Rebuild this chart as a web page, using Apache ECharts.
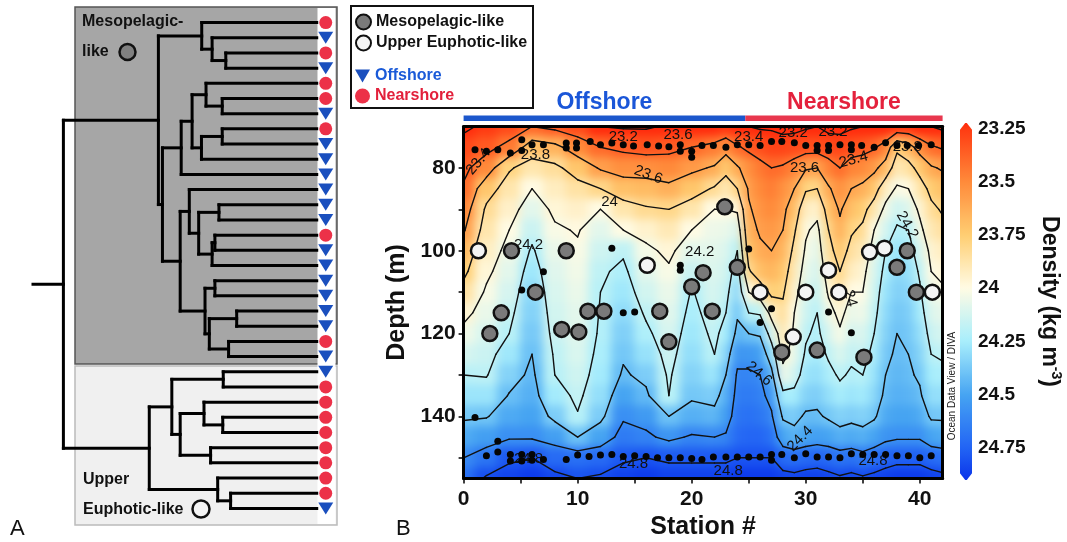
<!DOCTYPE html>
<html><head><meta charset="utf-8">
<script src="https://cdn.jsdelivr.net/npm/echarts@6/dist/echarts.min.js"></script>
<style>
html,body{margin:0;padding:0;background:#fff}
#wrap{position:relative;width:1067px;height:542px;background:#fff}
#heat{position:absolute;left:0;top:0;width:1067px;height:542px;filter:blur(5px);clip-path:inset(126.5px 124.4px 63.5px 463.6px)}
#c{position:absolute;left:0;top:0;width:1067px;height:542px}
</style>
</head><body><div id="wrap"><div id="heat"></div><div id="c"></div></div>
<script>
// ================= DATA =================
// ---- Panel A: dendrogram (leaves listed top to bottom)
const leafTypes = ['N','O','N','O','N','N','O','N','O','O','O','O','O','O','N','O','O','O','O','O','O','N','O',
                   'O','N','N','N','N','N','N','N','N','O'];
// merges: node id = 33 + k ; children may be leaves (0..32) or earlier nodes
const mergeA = [2,1,0,5,4,7,38,37,40,12,14,43,42,11,17,19,21,48,47,46,41,35,23,26,25,28,57,55,31,30,60,54];
const mergeB = [3,33,34,6,36,8,9,39,10,13,15,16,44,45,18,20,22,49,50,51,52,53,24,27,56,29,58,59,32,61,62,63];
const mergeHeight = [0.359,0.413,0.454,0.373,0.437,0.373,0.455,0.492,0.535,0.386,0.402,0.413,0.466,0.503,0.402,0.316,
                     0.348,0.424,0.441,0.539,0.609,0.625,0.369,0.371,0.445,0.419,0.539,0.572,0.340,0.391,0.661,1.000];

// ---- Panel B: gridded density (kg m-3), one profile per station, depths below
const stations = [0,2,4,6,8,10,12,14,16,18,20,22,23,24,25,26,27,28,29,30,31,32,33,34,35,36,37,38,39,40,41,42];
const depths = [70,75,80,85,90,95,100,105,110,115,120,125,130,135,140,145,150,155];
const densityProfiles = [
 [23.15,23.30,23.36,23.42,23.50,23.58,23.68,23.76,23.86,23.96,24.04,24.12,24.20,24.28,24.38,24.48,24.60,24.70],
 [23.25,23.35,23.50,23.72,23.83,23.88,23.93,23.97,24.02,24.06,24.11,24.15,24.19,24.28,24.39,24.52,24.68,24.82],
 [23.30,23.45,23.78,23.88,23.94,24.00,24.04,24.08,24.12,24.16,24.20,24.27,24.34,24.41,24.48,24.58,24.78,24.85],
 [23.40,23.70,23.88,24.00,24.08,24.15,24.22,24.27,24.31,24.34,24.37,24.40,24.43,24.46,24.50,24.58,24.80,24.88],
 [23.35,23.65,23.84,23.92,23.97,24.02,24.06,24.09,24.11,24.13,24.15,24.18,24.20,24.26,24.36,24.52,24.72,24.84],
 [23.30,23.50,23.72,23.86,23.94,23.99,24.02,24.04,24.06,24.08,24.09,24.11,24.14,24.17,24.21,24.40,24.70,24.80],
 [23.20,23.40,23.58,23.80,24.00,24.08,24.14,24.18,24.20,24.21,24.22,24.24,24.26,24.30,24.36,24.50,24.72,24.82],
 [23.18,23.36,23.52,23.70,23.88,24.00,24.18,24.23,24.27,24.31,24.35,24.38,24.42,24.50,24.58,24.66,24.78,24.86],
 [23.18,23.33,23.52,23.68,23.82,23.95,24.03,24.08,24.13,24.18,24.23,24.29,24.36,24.43,24.54,24.63,24.80,24.88],
 [23.22,23.35,23.50,23.64,23.80,23.90,23.97,24.02,24.06,24.09,24.12,24.15,24.18,24.20,24.40,24.56,24.78,24.86],
 [23.22,23.40,23.56,23.72,23.88,24.00,24.08,24.15,24.21,24.24,24.27,24.30,24.34,24.38,24.46,24.62,24.78,24.86],
 [23.22,23.45,23.62,23.82,24.00,24.05,24.08,24.10,24.12,24.14,24.17,24.20,24.28,24.36,24.44,24.60,24.78,24.86],
 [23.25,23.52,23.74,23.90,24.00,24.06,24.10,24.13,24.16,24.20,24.25,24.32,24.40,24.46,24.52,24.62,24.78,24.86],
 [23.22,23.42,23.62,23.80,23.98,24.10,24.20,24.26,24.32,24.38,24.44,24.55,24.62,24.65,24.68,24.72,24.80,24.88],
 [23.20,23.36,23.52,23.58,23.62,23.66,23.72,23.82,24.00,24.20,24.40,24.55,24.62,24.66,24.70,24.74,24.80,24.88],
 [23.18,23.32,23.45,23.50,23.54,23.58,23.63,23.70,23.90,24.18,24.38,24.52,24.60,24.64,24.68,24.74,24.80,24.88],
 [23.18,23.28,23.40,23.46,23.50,23.55,23.60,23.66,23.76,23.94,24.12,24.30,24.45,24.55,24.62,24.70,24.80,24.88],
 [23.15,23.28,23.42,23.52,23.56,23.60,23.66,23.72,23.78,23.84,23.90,23.96,24.05,24.25,24.38,24.50,24.72,24.85],
 [23.15,23.30,23.48,23.60,23.70,23.78,23.84,23.90,23.95,24.00,24.02,24.06,24.12,24.25,24.36,24.45,24.70,24.84],
 [23.18,23.32,23.58,23.78,23.92,23.98,24.02,24.06,24.10,24.14,24.18,24.22,24.28,24.34,24.42,24.50,24.72,24.86],
 [23.20,23.32,23.60,23.80,23.95,24.04,24.08,24.12,24.16,24.20,24.23,24.26,24.30,24.36,24.42,24.52,24.74,24.86],
 [23.15,23.30,23.48,23.62,23.72,23.80,23.86,23.92,23.98,24.05,24.12,24.18,24.24,24.30,24.38,24.50,24.72,24.84],
 [23.15,23.28,23.40,23.52,23.58,23.64,23.72,23.80,23.88,23.96,24.02,24.10,24.18,24.25,24.34,24.46,24.68,24.82],
 [23.18,23.32,23.48,23.60,23.70,23.78,23.85,23.92,24.00,24.06,24.12,24.17,24.22,24.28,24.36,24.48,24.70,24.84],
 [23.20,23.34,23.50,23.64,23.75,23.83,23.90,23.96,24.00,24.04,24.10,24.15,24.20,24.26,24.34,24.46,24.66,24.82],
 [23.20,23.38,23.56,23.72,23.88,24.00,24.06,24.10,24.13,24.16,24.20,24.24,24.28,24.32,24.38,24.50,24.70,24.84],
 [23.20,23.48,23.68,23.92,24.04,24.12,24.20,24.24,24.28,24.31,24.34,24.37,24.40,24.43,24.48,24.56,24.74,24.86],
 [23.25,23.76,23.90,24.02,24.14,24.22,24.28,24.32,24.35,24.38,24.40,24.42,24.44,24.46,24.50,24.58,24.76,24.88],
 [23.25,23.68,23.86,24.00,24.10,24.20,24.26,24.30,24.33,24.36,24.38,24.40,24.42,24.45,24.50,24.58,24.76,24.88],
 [23.22,23.52,23.74,23.88,23.97,24.04,24.12,24.18,24.22,24.26,24.30,24.34,24.38,24.42,24.48,24.58,24.76,24.88],
 [23.20,23.42,23.62,23.75,23.84,23.90,23.96,24.00,24.05,24.10,24.15,24.20,24.25,24.30,24.38,24.50,24.72,24.86],
 [23.16,23.38,23.58,23.70,23.78,23.85,23.92,23.97,24.02,24.07,24.12,24.18,24.24,24.30,24.38,24.48,24.70,24.84]
];
const contourLevels = [23.2,23.4,23.6,23.8,24.0,24.2,24.4,24.6,24.8];

// contour labels (station, depth, text)
const labelStations = [1.3,6.3,14.0,18.8,16.2,12.8,5.7,20.7,25.0,28.9,32.4,29.9,34.2,38.9,38.9,33.9,25.9,29.5,5.7,14.9,23.2,35.9];
const labelDepths   = [78.5,76.9,72.4,72.0,81.7,88.2,98.6,100.3,72.4,71.6,71.2,80.1,78.0,74.8,93.8,111.5,129.7,145.4,150.3,151.5,153.1,150.7];
const labelTexts    = ['23.4','23.8','23.2','23.6','23.6','24','24.2','24.2','23.4','23.2','23.2','23.6','23.4','23.8','24.2','24','24.6','24.4','24.8','24.8','24.8','24.8'];
const labelAngles   = [50,0,0,0,-20,0,0,0,0,0,0,0,15,0,-60,-75,-40,45,0,0,0,0];

// CTD sampling depths (black dots)
const dotStations = [1,2,3,4.1,5.1,5.1,6,7,9,9,9.9,9.9,11.1,12,13,14,14.9,16.1,17.1,18,19,19,20,20,20.9,21.9,23,24,25,26,27,27.9,29,30,31,31,32,32,33,34,34,34.9,36,37,38,38.9,39.9,41,
  1,2,3,3,4.1,4.1,5.1,5.1,6,6,7,9,10,11,12,13,14,15,16,17,18,19,20,20.9,21.9,23,24,25,26,27,27,27.9,29,30,31,32,33,34,35,36,37,38,39,40,41,
  5.1,7,13,14,15,19,19,25,26,27,32,34];
const dotDepths = [75.6,76,75.6,76.4,73.2,75.8,74.4,74.4,74,75.2,74,75.2,73.6,74.4,74,74.4,74.7,74.4,74.7,74.9,74.4,76,76,77.4,74.6,74.6,75,74.4,74.4,74.6,73.6,73.6,73.9,74.6,74.6,75.8,74.6,75.8,74.4,74.4,75.6,74.6,75,73.9,74.6,74.6,74.6,74.4,
  140.3,149.5,146,148.6,149.2,150.8,149.2,150.8,149.2,150.6,150.4,150.4,149.3,149.7,149.3,149.2,149.7,149.5,149.7,150,150,150,150.2,150.4,149.8,149.8,149.8,149.8,149.8,149.2,150.6,149.2,150,149,149.8,149.8,150,149,149.2,149.2,149.2,149.5,149.5,150,149.5,
  109.5,105.1,99.4,115,114.8,103.5,104.7,99.6,117.3,114,114.8,119.8];

// Mesopelagic-like samples (grey)
const mesoStations = [2.3,3.3,4.2,6.3,8.6,9.0,10.1,10.9,12.3,17.2,18.0,20.0,21.0,21.8,22.9,24.0,27.9,31.0,35.1,38.0,38.9,39.7];
const mesoDepths   = [120,115,100,110,119,100,119.6,114.6,114.6,114.6,122,108.7,105.3,114.6,89.4,104,124.5,124,125.7,104,100,110];
// Upper euphotic-like samples (white)
const euphStations = [1.3,16.1,26.0,28.9,30.0,32.0,32.9,35.6,36.9,41.1];
const euphDepths   = [100,103.5,110,120.8,110,104.7,110,100.3,99.4,110];

// station groups across the top
const regionNames = ['Offshore','Nearshore'];
const regionFrom = [0,24.7];
const regionTo = [24.7,42];

// ================= BUILD =================
const FONT = '"Liberation Sans", Arial, sans-serif';
const nLeaf = leafTypes.length;
const nodeY = leafTypes.map((_, i) => i);
const nodeH = leafTypes.map(() => 0);
mergeA.forEach((a, k) => { const b = mergeB[k]; nodeY.push((nodeY[a] + nodeY[b]) / 2); nodeH.push(mergeHeight[k]); });

const paletteStops = [[23.225,[255,42,12]],[23.25,[255,58,18]],[23.5,[255,138,58]],[23.75,[255,206,114]],[24.0,[255,251,228]],
                      [24.25,[168,238,252]],[24.5,[70,164,242]],[24.75,[34,100,244]],[24.9,[10,52,234]]];
function buildPalette(min, max, n) {
  const out = [];
  for (let i = 0; i < n; i++) {
    const v = min + (max - min) * i / (n - 1);
    let j = 0; while (j < paletteStops.length - 2 && v > paletteStops[j + 1][0]) j++;
    const [v0, c0] = paletteStops[j], [v1, c1] = paletteStops[j + 1];
    const t = Math.max(0, Math.min(1, (v - v0) / (v1 - v0)));
    const c = c0.map((x, k) => Math.round(x + (c1[k] - x) * t));
    out.push('rgb(' + c.join(',') + ')');
  }
  return out;
}
const VMIN = 23.225, VMAX = 24.90;
const PALETTE = buildPalette(VMIN, VMAX, 68);

const heatData = [];
stations.forEach((s, ci) => depths.forEach((d, ri) => heatData.push([s, d, densityProfiles[ci][ri], ci, ri])));
const cellData = [];
for (let ci = 0; ci < stations.length - 1; ci++) for (let ri = 0; ri < depths.length - 1; ri++) cellData.push([stations[ci], depths[ri], ci, ri]);

function bounds(arr, i) {
  const lo = i === 0 ? arr[0] : (arr[i - 1] + arr[i]) / 2;
  const hi = i === arr.length - 1 ? arr[i] : (arr[i] + arr[i + 1]) / 2;
  return [lo, hi];
}

function marching(x0, x1, y0, y1, a, b, c, d, L) {
  const ia = a >= L, ib = b >= L, ic = c >= L, id = d >= L;
  const pts = {};
  if (ia !== ib) pts.t = [x0 + (x1 - x0) * (L - a) / (b - a), y0];
  if (ib !== ic) pts.r = [x1, y0 + (y1 - y0) * (L - b) / (c - b)];
  if (id !== ic) pts.b = [x0 + (x1 - x0) * (L - d) / (c - d), y1];
  if (ia !== id) pts.l = [x0, y0 + (y1 - y0) * (L - a) / (d - a)];
  const keys = Object.keys(pts);
  if (keys.length === 2) return [[pts[keys[0]], pts[keys[1]]]];
  if (keys.length === 4) {
    const center = (a + b + c + d) / 4 >= L;
    if (ia !== center) return [[pts.t, pts.l], [pts.r, pts.b]];
    return [[pts.t, pts.r], [pts.b, pts.l]];
  }
  return [];
}

// ---------- density field (own layer, smoothed by a CSS blur and clipped to the plot) ----------
const EDGE = 30;
const heatChart = echarts.init(document.getElementById('heat'), null, { renderer: 'canvas' });
heatChart.setOption({
  animation: false,
  grid: [{ left: 463.6, top: 126.5, width: 479, height: 352, outerBoundsMode: 'none' }],
  xAxis: [{ type: 'value', min: 0, max: 42, show: false }],
  yAxis: [{ type: 'value', min: 70, max: 155, inverse: true, show: false }],
  visualMap: { type: 'continuous', show: false, seriesIndex: 0, dimension: 2, min: VMIN, max: VMAX, inRange: { color: PALETTE } },
  series: [{
    type: 'custom', silent: true, data: heatData, encode: { x: 0, y: 1 },
    renderItem: function (params, api) {
      const ci = api.value(3), ri = api.value(4);
      const [x0, x1] = bounds(stations, ci), [y0, y1] = bounds(depths, ri);
      const p0 = api.coord([x0, y0]), p1 = api.coord([x1, y1]);
      let L = Math.min(p0[0], p1[0]), R = Math.max(p0[0], p1[0]), T = Math.min(p0[1], p1[1]), B = Math.max(p0[1], p1[1]);
      if (ci === 0) L -= EDGE;
      if (ci === stations.length - 1) R += EDGE;
      if (ri === 0) T -= EDGE;
      if (ri === depths.length - 1) B += EDGE;
      const col = api.visual('color');
      return { type: 'rect', shape: { x: L, y: T, width: R - L, height: B - T }, style: { fill: col, stroke: col, lineWidth: 1 } };
    }
  }]
});

// ---------- everything else ----------
const lineStyleDendro = { stroke: '#000', lineWidth: 3, lineCap: 'square' };

const option = {
  animation: false,
  backgroundColor: 'transparent',
  textStyle: { fontFamily: FONT },
  grid: [
    { left: 33, top: 15, width: 304, height: 501, outerBoundsMode: 'none' },
    { left: 463.6, top: 126.5, width: 479, height: 352, outerBoundsMode: 'none' },
    { left: 960, top: 123, width: 12, height: 357, outerBoundsMode: 'none' }
  ],
  xAxis: [
    { gridIndex: 0, type: 'value', min: -0.08, max: 1.12, inverse: true, show: false },
    { gridIndex: 1, type: 'value', min: 0, max: 42, z: 10,
      name: 'Station #', nameLocation: 'middle', nameGap: 35,
      nameTextStyle: { fontSize: 25, fontWeight: 'bold', color: '#111', fontFamily: FONT },
      axisLine: { show: true, onZero: false, lineStyle: { color: '#000', width: 3 } },
      axisTick: { show: true, length: 5, lineStyle: { color: '#000', width: 1.5 }, customValues: [0,5,10,15,20,25,30,35,40] },
      axisLabel: { show: true, margin: 10, fontSize: 21, fontWeight: 'bold', color: '#111', fontFamily: FONT, customValues: [0,10,20,30,40] },
      splitLine: { show: false } },
    { gridIndex: 1, type: 'value', min: 0, max: 42, position: 'top', z: 10,
      axisLine: { show: true, onZero: false, lineStyle: { color: '#000', width: 3 } },
      axisTick: { show: false }, axisLabel: { show: false }, splitLine: { show: false } },
    { gridIndex: 2, type: 'value', min: 0, max: 1, show: false }
  ],
  yAxis: [
    { gridIndex: 0, type: 'value', min: -0.5, max: 32.5, inverse: true, show: false },
    { gridIndex: 1, type: 'value', min: 70, max: 155, inverse: true, z: 10,
      name: 'Depth (m)', nameLocation: 'middle', nameGap: 54,
      nameTextStyle: { fontSize: 25, fontWeight: 'bold', color: '#111', fontFamily: FONT },
      axisLine: { show: true, onZero: false, lineStyle: { color: '#000', width: 3 } },
      axisTick: { show: true, length: 5, lineStyle: { color: '#000', width: 1.5 }, customValues: [80,90,100,110,120,130,140,150] },
      axisLabel: { show: true, margin: 8, fontSize: 21, fontWeight: 'bold', color: '#111', fontFamily: FONT, customValues: [80,100,120,140] },
      splitLine: { show: false } },
    { gridIndex: 1, type: 'value', min: 70, max: 155, inverse: true, position: 'right', z: 10,
      axisLine: { show: true, onZero: false, lineStyle: { color: '#000', width: 3 } },
      axisTick: { show: false }, axisLabel: { show: false }, splitLine: { show: false } },
    { gridIndex: 2, type: 'value', min: VMIN, max: VMAX, inverse: true, position: 'right',
      name: 'Density (kg m{sup|-3})', nameLocation: 'middle', nameGap: 63, nameRotate: -90,
      nameTextStyle: { fontSize: 23, fontWeight: 'bold', color: '#111', fontFamily: FONT, lineHeight: 28,
        rich: { sup: { fontSize: 14, fontWeight: 'bold', color: '#111', fontFamily: FONT, verticalAlign: 'top', lineHeight: 28, padding: [0, 0, 11, 0] } } },
      axisLine: { show: false },
      axisTick: { show: true, length: 3, lineStyle: { color: '#333', width: 1 }, customValues: [23.25,23.5,23.75,24,24.25,24.5,24.75] },
      axisLabel: { show: true, margin: 6, fontSize: 19, fontWeight: 'bold', color: '#111', fontFamily: FONT,
        customValues: [23.25,23.5,23.75,24,24.25,24.5,24.75] },
      splitLine: { show: false } }
  ],
  visualMap: {
    type: 'continuous', seriesIndex: 3, dimension: 2, min: VMIN, max: VMAX, inverse: true,
    left: 960, top: 123, itemWidth: 12, itemHeight: 357, padding: 0, calculable: false, hoverLink: false,
    text: null, showLabel: false,
    inRange: { color: PALETTE }
  },
  legend: [
    { data: ['Mesopelagic-like', 'Upper Euphotic-like'], orient: 'vertical', left: 355, top: 13.5, padding: 0,
      itemWidth: 15, itemHeight: 15, itemGap: 4, selectedMode: false,
      textStyle: { fontSize: 16, fontWeight: 'bold', color: '#111', fontFamily: FONT, lineHeight: 16 } },
    { data: [{ name: 'Offshore', icon: 'path://M0,0L14,0L7,12Z', textStyle: { color: '#1a5ad8' } },
             { name: 'Nearshore', icon: 'circle', textStyle: { color: '#e2203b' } }],
      orient: 'vertical', left: 355, top: 68, padding: 0,
      itemWidth: 15, itemHeight: 15, itemGap: 4, selectedMode: false,
      textStyle: { fontSize: 16, fontWeight: 'bold', fontFamily: FONT, lineHeight: 16 } }
  ],
  graphic: [
    { type: 'rect', z: -10, shape: { x: 75, y: 7, width: 262, height: 357 }, style: { fill: '#a6a6a6', stroke: '#555', lineWidth: 1.5 } },
    { type: 'rect', z: -10, shape: { x: 75, y: 366, width: 262, height: 159 }, style: { fill: '#f0f0f0', stroke: '#bbbbbb', lineWidth: 1.5 } },
    { type: 'rect', z: -9, shape: { x: 317.5, y: 8, width: 18, height: 516 }, style: { fill: '#ffffff' } },
    { type: 'text', x: 82, y: 22, style: { text: 'Mesopelagic-', font: 'bold 16px ' + FONT, fill: '#111', verticalAlign: 'middle', textVerticalAlign: 'middle' } },
    { type: 'text', x: 82, y: 52, style: { text: 'like', font: 'bold 16px ' + FONT, fill: '#111', verticalAlign: 'middle', textVerticalAlign: 'middle' } },
    { type: 'circle', shape: { cx: 127.5, cy: 52, r: 8 }, style: { fill: '#808080', stroke: '#111', lineWidth: 2.5 } },
    { type: 'text', x: 83, y: 480, style: { text: 'Upper', font: 'bold 16px ' + FONT, fill: '#111', verticalAlign: 'middle', textVerticalAlign: 'middle' } },
    { type: 'text', x: 83, y: 510, style: { text: 'Euphotic-like', font: 'bold 16px ' + FONT, fill: '#111', verticalAlign: 'middle', textVerticalAlign: 'middle' } },
    { type: 'circle', shape: { cx: 201, cy: 509, r: 8.5 }, style: { fill: '#f4f4f4', stroke: '#111', lineWidth: 2.5 } },
    { type: 'rect', shape: { x: 351, y: 6, width: 182, height: 102 }, style: { fill: 'none', stroke: '#111', lineWidth: 2 } },
    { type: 'text', x: 10, y: 529, style: { text: 'A', font: '22px ' + FONT, fill: '#111', verticalAlign: 'middle', textVerticalAlign: 'middle' } },
    { type: 'text', x: 396, y: 529, style: { text: 'B', font: '22px ' + FONT, fill: '#111', verticalAlign: 'middle', textVerticalAlign: 'middle' } },
    { type: 'text', x: 952, y: 386, rotation: Math.PI / 2, style: { text: 'Ocean Data View / DIVA', font: '10px ' + FONT, fill: '#222',
      align: 'center', textAlign: 'center', verticalAlign: 'middle', textVerticalAlign: 'middle' } },
    // pointed ends of the colour bar
    { type: 'polygon', z: 100, shape: { points: [[959, 122], [966, 122], [959, 131]] }, style: { fill: '#fff' } },
    { type: 'polygon', z: 100, shape: { points: [[966, 122], [973, 122], [973, 131]] }, style: { fill: '#fff' } },
    { type: 'polygon', z: 100, shape: { points: [[959, 481], [966, 481], [959, 472]] }, style: { fill: '#fff' } },
    { type: 'polygon', z: 100, shape: { points: [[966, 481], [973, 481], [973, 472]] }, style: { fill: '#fff' } }
  ],
  series: [
    // 0: dendrogram branches
    { type: 'custom', xAxisIndex: 0, yAxisIndex: 0, silent: true, z: 3,
      data: mergeA.map((a, k) => [mergeHeight[k], nodeY[nLeaf + k]]),
      encode: { x: 0, y: 1 },
      renderItem: function (params, api) {
        const k = params.dataIndex, a = mergeA[k], b = mergeB[k], h = mergeHeight[k];
        const pa0 = api.coord([nodeH[a], nodeY[a]]), pa1 = api.coord([h, nodeY[a]]);
        const pb0 = api.coord([nodeH[b], nodeY[b]]), pb1 = api.coord([h, nodeY[b]]);
        const ch = [
          { type: 'line', shape: { x1: pa0[0], y1: pa0[1], x2: pa1[0], y2: pa1[1] }, style: lineStyleDendro },
          { type: 'line', shape: { x1: pb0[0], y1: pb0[1], x2: pb1[0], y2: pb1[1] }, style: lineStyleDendro },
          { type: 'line', shape: { x1: pa1[0], y1: pa1[1], x2: pb1[0], y2: pb1[1] }, style: lineStyleDendro }
        ];
        if (k === mergeA.length - 1) {
          const pr = api.coord([h, nodeY[nLeaf + k]]);
          ch.push({ type: 'line', shape: { x1: pr[0], y1: pr[1], x2: params.coordSys.x, y2: pr[1] }, style: lineStyleDendro });
        }
        return { type: 'group', children: ch };
      } },
    // 1: offshore leaves
    { name: 'Offshore', type: 'scatter', xAxisIndex: 0, yAxisIndex: 0, silent: true, z: 4,
      symbol: 'triangle', symbolRotate: 180, symbolSize: [15, 12], symbolOffset: [9, 0],
      itemStyle: { color: '#1a4fbe', opacity: 1 },
      data: leafTypes.map((t, i) => t === 'O' ? [0, i] : null).filter(Boolean) },
    // 2: nearshore leaves
    { name: 'Nearshore', type: 'scatter', xAxisIndex: 0, yAxisIndex: 0, silent: true, z: 4,
      symbol: 'circle', symbolSize: 13, symbolOffset: [9, 0],
      itemStyle: { color: '#ec3148', opacity: 1 },
      data: leafTypes.map((t, i) => t === 'N' ? [0, i] : null).filter(Boolean) },
    // 3: density values (colour-scale reference; cells are painted in the smoothed layer underneath)
    { type: 'custom', xAxisIndex: 1, yAxisIndex: 1, silent: true, z: 1,
      data: heatData, encode: { x: 0, y: 1 },
      renderItem: function () { return null; } },
    // 4: contours
    { type: 'custom', xAxisIndex: 1, yAxisIndex: 1, silent: true, z: 2,
      data: cellData, encode: { x: 0, y: 1 },
      renderItem: function (params, api) {
        const ci = api.value(2), ri = api.value(3);
        const x0 = stations[ci], x1 = stations[ci + 1], y0 = depths[ri], y1 = depths[ri + 1];
        const a = densityProfiles[ci][ri], b = densityProfiles[ci + 1][ri], c = densityProfiles[ci + 1][ri + 1], d = densityProfiles[ci][ri + 1];
        const ch = [];
        contourLevels.forEach(L => {
          marching(x0, x1, y0, y1, a, b, c, d, L).forEach(seg => {
            const p = api.coord(seg[0]), q = api.coord(seg[1]);
            ch.push({ type: 'line', shape: { x1: p[0], y1: p[1], x2: q[0], y2: q[1] }, style: { stroke: '#111', lineWidth: 1.4, lineCap: 'round' } });
          });
        });
        return { type: 'group', children: ch };
      } },
    // 5: contour labels
    { type: 'custom', xAxisIndex: 1, yAxisIndex: 1, silent: true, z: 3,
      data: labelStations.map((s, i) => [s, labelDepths[i]]), encode: { x: 0, y: 1 },
      renderItem: function (params, api) {
        const i = params.dataIndex;
        const p = api.coord([api.value(0), api.value(1)]);
        return { type: 'text', x: p[0], y: p[1], rotation: labelAngles[i] * Math.PI / 180,
          style: { text: labelTexts[i], font: '15px ' + FONT, fill: '#111', align: 'center', verticalAlign: 'middle' } };
      } },
    // 6: sampling dots
    { name: 'CTD', type: 'scatter', xAxisIndex: 1, yAxisIndex: 1, silent: true, z: 4, clip: false,
      symbolSize: 7, itemStyle: { color: '#050505', opacity: 1 },
      data: dotStations.map((s, i) => [s, dotDepths[i]]) },
    // 7: mesopelagic-like
    { name: 'Mesopelagic-like', type: 'scatter', xAxisIndex: 1, yAxisIndex: 1, silent: true, z: 5, clip: false,
      symbolSize: 15, itemStyle: { color: '#7a7a7a', borderColor: '#111', borderWidth: 2.5, opacity: 1 },
      data: mesoStations.map((s, i) => [s, mesoDepths[i]]) },
    // 8: upper euphotic-like
    { name: 'Upper Euphotic-like', type: 'scatter', xAxisIndex: 1, yAxisIndex: 1, silent: true, z: 5, clip: false,
      symbolSize: 15, itemStyle: { color: '#f4f4f4', borderColor: '#111', borderWidth: 2.5, opacity: 1 },
      data: euphStations.map((s, i) => [s, euphDepths[i]]) },
    // 9: offshore / nearshore header bars
    { type: 'custom', xAxisIndex: 1, yAxisIndex: 1, silent: true, z: 5, clip: false,
      data: regionFrom.map((f, i) => [f, 70, regionTo[i]]), encode: { x: 0, y: 1 },
      renderItem: function (params, api) {
        const i = params.dataIndex;
        const p0 = api.coord([regionFrom[i], 70]), p1 = api.coord([regionTo[i], 70]);
        const top = params.coordSys.y;
        const barCol = i === 0 ? '#1c57cc' : '#e8374e';
        const txtCol = i === 0 ? '#1a56d8' : '#e4213c';
        return { type: 'group', children: [
          { type: 'rect', shape: { x: p0[0], y: top - 11, width: p1[0] - p0[0], height: 5.5 }, style: { fill: barCol } },
          { type: 'text', x: (p0[0] + p1[0]) / 2, y: top - 23.5, style: { text: regionNames[i], font: 'bold 23px ' + FONT, fill: txtCol, align: 'center', verticalAlign: 'middle' } }
        ] };
      } }
  ]
};

const chart = echarts.init(document.getElementById('c'), null, { renderer: 'canvas' });
chart.setOption(option);
</script>
</body></html>
